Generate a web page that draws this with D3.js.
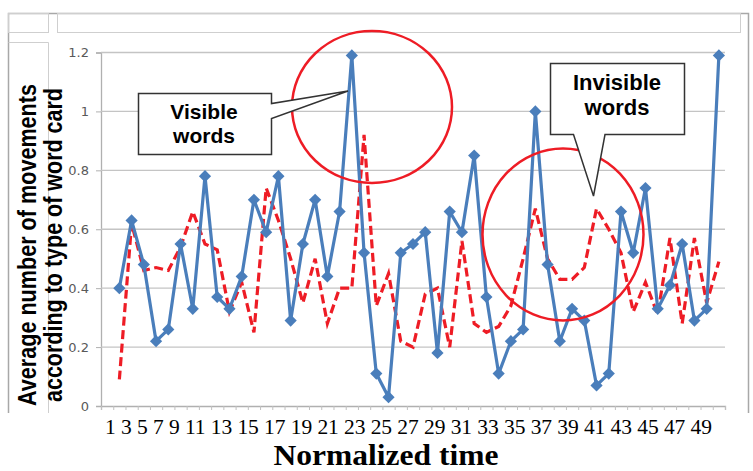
<!DOCTYPE html>
<html>
<head>
<meta charset="utf-8">
<script src="https://cdn.jsdelivr.net/npm/d3@7"></script>
<style>
  body { margin: 0; background: #fff; }
  svg { display: block; }
</style>
</head>
<body>
<div id="chart"></div>
<script>
// Data
const categories = [1,2,3,4,5,6,7,8,9,10,11,12,13,14,15,16,17,18,19,20,21,22,23,24,25,
                    26,27,28,29,30,31,32,33,34,35,36,37,38,39,40,41,42,43,44,45,46,47,48,49,50];

// blue solid line with diamonds
const visibleWords = [0.40,0.63,0.48,0.22,0.26,0.55,0.33,0.78,0.37,0.33,
                      0.44,0.70,0.59,0.78,0.29,0.55,0.70,0.44,0.66,1.19,
                      0.52,0.11,0.03,0.52,0.55,0.59,0.18,0.66,0.59,0.85,
                      0.37,0.11,0.22,0.26,1.00,0.48,0.22,0.33,0.29,0.07,
                      0.11,0.66,0.52,0.74,0.33,0.41,0.55,0.29,0.33,1.19];

// red dashed line
const invisibleWords = [0.09,0.62,0.46,0.47,0.46,0.54,0.66,0.55,0.53,0.32,
                        0.42,0.25,0.74,0.63,0.50,0.35,0.50,0.28,0.40,0.40,
                        0.92,0.34,0.45,0.22,0.20,0.38,0.40,0.20,0.56,0.28,
                        0.25,0.27,0.34,0.50,0.67,0.50,0.43,0.43,0.47,0.67,
                        0.60,0.52,0.32,0.42,0.31,0.57,0.28,0.57,0.35,0.49];

const yTicks = [0, 0.2, 0.4, 0.6, 0.8, 1, 1.2];
const xTickLabels = ["1","3","5","7","9","11","13","15","17","19","21","23","25",
                     "27","29","31","33","35","37","39","41","43","45","47","49"];

const width = 753, height = 471;
const plot = {left: 101, right: 725, top: 52.5, bottom: 406};

const blue = "#4a7ebb";
const red = "#ee1c25";

const svg = d3.select("#chart")
  .append("svg")
  .attr("width", width)
  .attr("height", height);

// Frame around the chart (outer lines and the little header boxes)
const frame = svg.append("g").attr("fill", "none");
frame.append("path")
  .attr("d", "M8.5,413V13.5H748.5V413")
  .attr("stroke", "#a8a8a8").attr("stroke-width", 1.5);
frame.append("rect").attr("x", 8.5).attr("y", 13.5).attr("width", 40).attr("height", 19)
  .attr("stroke", "#cfcfcf");
frame.append("rect").attr("x", 57.5).attr("y", 13.5).attr("width", 683).attr("height", 19)
  .attr("stroke", "#cfcfcf");
frame.append("path").attr("d", "M8.5,42.5H48.5V413")
  .attr("stroke", "#cfcfcf");

// Scales
const xScale = d3.scaleLinear()
  .domain([-0.5, 50.5])
  .range([plot.left, plot.right]);

const yScale = d3.scaleLinear()
  .domain([0, 1.2])
  .range([plot.bottom, plot.top]);

// y axis
const yAxis = svg.append("g")
  .attr("transform", `translate(${plot.left},0)`)
  .call(d3.axisLeft(yScale)
          .tickValues(yTicks)
          .tickSize(5)
          .tickPadding(7)
          .tickFormat(d3.format("~g")));
yAxis.select(".domain").attr("stroke", "#b0b0b0").attr("stroke-width", 1.3);
yAxis.selectAll(".tick line").attr("stroke", "#b0b0b0");
yAxis.selectAll(".tick text")
  .attr("font-family", "DejaVu Sans")
  .attr("font-size", "13px")
  .attr("fill", "#595959");

// gridlines
svg.append("g")
  .selectAll("line")
  .data(yTicks.filter(d => d > 0))
  .join("line")
    .attr("x1", plot.left)
    .attr("x2", plot.right)
    .attr("y1", d => yScale(d))
    .attr("y2", d => yScale(d))
    .attr("stroke", "#c4c4c4")
    .attr("stroke-width", 1.3);

// x axis: small ticks between categories, no labels
const xAxis = svg.append("g")
  .attr("transform", `translate(0,${plot.bottom})`)
  .call(d3.axisBottom(xScale)
          .tickValues(d3.range(-0.5, 51, 1))
          .tickSize(4)
          .tickFormat(""));
xAxis.select(".domain").attr("stroke", "#b0b0b0").attr("stroke-width", 1.3);
xAxis.selectAll(".tick line").attr("stroke", "#c0c0c0");

// tick labels typed as one line of text under the chart
svg.append("text")
  .attr("x", 105)
  .attr("y", 434)
  .attr("font-family", "Liberation Serif, Times New Roman, serif")
  .attr("font-size", "21.5px")
  .attr("textLength", 607)
  .attr("lengthAdjust", "spacing")
  .text(xTickLabels.join(" "));

// axis titles
svg.append("text")
  .attr("x", 386)
  .attr("y", 465)
  .attr("text-anchor", "middle")
  .attr("font-family", "Liberation Serif, Times New Roman, serif")
  .attr("font-weight", "bold")
  .attr("font-size", "30px")
  .attr("textLength", 225)
  .attr("lengthAdjust", "spacingAndGlyphs")
  .text("Normalized time");

const yTitle = ["Average number of movements", "according to type of word card"];
svg.selectAll(".ytitle")
  .data(yTitle)
  .join("text")
    .attr("class", "ytitle")
    .attr("transform", (d, i) => `translate(${i === 0 ? 36 : 62},245) rotate(-90)`)
    .attr("text-anchor", "middle")
    .attr("font-family", "Liberation Sans, Arial, sans-serif")
    .attr("font-weight", "bold")
    .attr("font-size", "25px")
    .attr("textLength", (d, i) => i === 0 ? 322 : 314)
    .attr("lengthAdjust", "spacingAndGlyphs")
    .text(d => d);

// Lines
const line = d3.line()
  .x((d, i) => xScale(categories[i]))
  .y(d => yScale(d));

svg.append("path")
  .datum(invisibleWords)
  .attr("fill", "none")
  .attr("stroke", red)
  .attr("stroke-width", 3.2)
  .attr("stroke-dasharray", "9,4.5")
  .attr("d", line);

svg.append("path")
  .datum(visibleWords)
  .attr("fill", "none")
  .attr("stroke", blue)
  .attr("stroke-width", 3.2)
  .attr("stroke-linejoin", "round")
  .attr("d", line);

svg.selectAll(".point")
  .data(visibleWords)
  .join("path")
    .attr("class", "point")
    .attr("d", d3.symbol(d3.symbolDiamond2, 95))
    .attr("transform", (d, i) => `translate(${xScale(categories[i])},${yScale(d)})`)
    .attr("fill", blue);

// Annotations: red circles and callouts
const anno = svg.append("g");
anno.append("ellipse")
  .attr("cx", 372).attr("cy", 107).attr("rx", 80).attr("ry", 76)
  .attr("fill", "none").attr("stroke", red).attr("stroke-width", 2.5);
anno.append("ellipse")
  .attr("cx", 563).attr("cy", 234.5).attr("rx", 80.5).attr("ry", 86)
  .attr("fill", "none").attr("stroke", red).attr("stroke-width", 2.5);

// "Visible words" callout
anno.append("path")
  .attr("d", "M138.5,93.5H271.5V103.5L348,91L271.5,118.5V154.5H138.5Z")
  .attr("fill", "#fff").attr("stroke", "#333").attr("stroke-width", 1.5);
anno.append("text")
  .attr("x", 204).attr("y", 119)
  .attr("text-anchor", "middle")
  .attr("font-family", "Liberation Sans, Arial, sans-serif")
  .attr("font-weight", "bold").attr("font-size", "21px")
  .text("Visible");
anno.append("text")
  .attr("x", 204).attr("y", 143)
  .attr("text-anchor", "middle")
  .attr("font-family", "Liberation Sans, Arial, sans-serif")
  .attr("font-weight", "bold").attr("font-size", "21px")
  .text("words");

// "Invisible words" callout
anno.append("path")
  .attr("d", "M550.5,63.5H684.5V134.5H605L593.5,196L573.5,134.5H550.5Z")
  .attr("fill", "#fff").attr("stroke", "#333").attr("stroke-width", 1.5);
anno.append("text")
  .attr("x", 617).attr("y", 90)
  .attr("text-anchor", "middle")
  .attr("font-family", "Liberation Sans, Arial, sans-serif")
  .attr("font-weight", "bold").attr("font-size", "22px")
  .text("Invisible");
anno.append("text")
  .attr("x", 617).attr("y", 115)
  .attr("text-anchor", "middle")
  .attr("font-family", "Liberation Sans, Arial, sans-serif")
  .attr("font-weight", "bold").attr("font-size", "22px")
  .text("words");
</script>
</body>
</html>
